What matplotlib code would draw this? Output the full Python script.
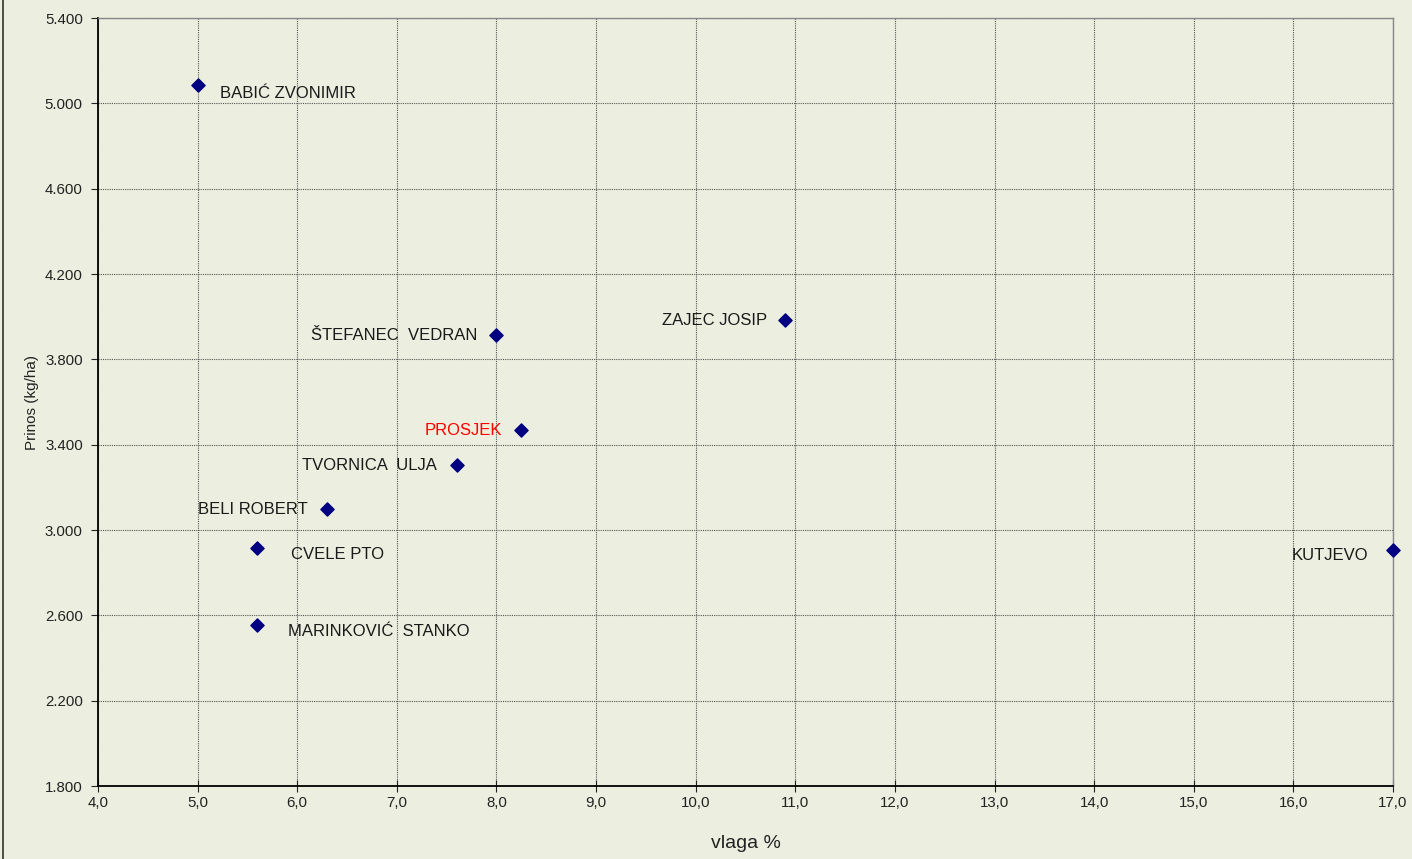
import numpy as np
import matplotlib.pyplot as plt
from matplotlib.ticker import FuncFormatter

plt.rcParams['font.family'] = ['Liberation Sans', 'DejaVu Sans']

names = ['BABIĆ ZVONIMIR', 'ŠTEFANEC  VEDRAN', 'ZAJEC JOSIP', 'PROSJEK',
         'TVORNICA  ULJA', 'BELI ROBERT', 'CVELE PTO', 'MARINKOVIĆ  STANKO', 'KUTJEVO']
vlaga = [5.0, 8.0, 10.9, 8.25, 7.6, 6.3, 5.6, 5.6, 17.0]
prinos = [5086, 3914, 3984, 3469, 3304, 3098, 2915, 2554, 2906]

xticks = np.arange(4, 17.01, 1)
yticks = np.arange(1800, 5401, 400)

# label offsets in points, alignment
offsets = [(16, -6, 'left'), (-14, -0.5, 'right'), (-13, -0.5, 'right'), (-14, -0.5, 'right'),
           (-14, -0.5, 'right'), (-14, -0.5, 'right'), (24, -4.5, 'left'), (22, -4.5, 'left'),
           (-18, -4, 'right')]

bg = '#ECEEDF'
fig = plt.figure(figsize=(14.12, 8.59), dpi=100, facecolor=bg)
ax = fig.add_axes([98/1412, 1-786/859, (1393-98)/1412, (786-18)/859])
ax.set_facecolor(bg)

ax.scatter(vlaga, prinos, marker='D', s=45, color='#000080', zorder=3, clip_on=False)

for n, x, y, (dx, dy, ha) in zip(names, vlaga, prinos, offsets):
    col = 'red' if n == 'PROSJEK' else '#1a1a1a'
    ax.annotate(n, (x, y), xytext=(dx, dy), textcoords='offset points',
                ha=ha, va='center', fontsize=12, color=col)

ax.set_xlim(4, 17)
ax.set_ylim(1800, 5400)
ax.set_xticks(xticks)
ax.set_yticks(yticks)
ax.xaxis.set_major_formatter(FuncFormatter(lambda v, p: f'{v:.1f}'.replace('.', ',')))
ax.yaxis.set_major_formatter(FuncFormatter(lambda v, p: f'{int(v)//1000}.{int(v)%1000:03d}'))

ax.grid(True, color='#555555', linestyle=(0, (1, 1)), linewidth=0.8)
ax.set_axisbelow(True)
for s in ['left', 'bottom']:
    ax.spines[s].set_color('black')
    ax.spines[s].set_linewidth(1.3)
for s in ['top', 'right']:
    ax.spines[s].set_color('#888888')
    ax.spines[s].set_linewidth(1.0)

ax.tick_params(axis='both', labelsize=10.8, colors='#222222')
ax.tick_params(axis='y', direction='out', length=5, pad=6)
ax.tick_params(axis='x', direction='inout', length=8, pad=3)

ax.set_xlabel('vlaga %', fontsize=14, labelpad=18, color='#222222')
ax.set_ylabel('Prinos (kg/ha)', fontsize=11, labelpad=4, color='#222222')

# left border line of the frame
fig.add_artist(plt.Line2D([3/1412, 3/1412], [0, 1], color='#333333', linewidth=1.2))

fig.savefig('out.png', dpi=100, facecolor=bg)
